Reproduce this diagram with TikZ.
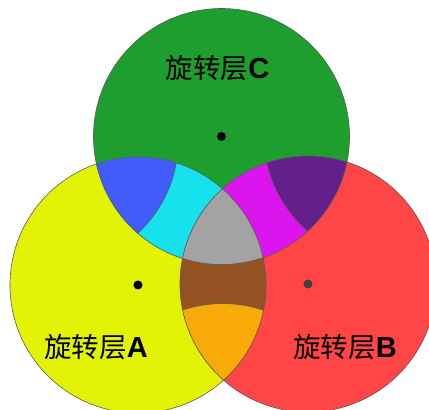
\documentclass[tikz,border=0pt]{standalone}
\usepackage{fontspec}
\setmainfont{Liberation Sans}
\newfontfamily\cjk{Noto Sans CJK SC}
\definecolor{cYellow}{HTML}{E3F306}
\definecolor{cRed}{HTML}{FF4545}
\definecolor{cGreen}{HTML}{1E9E2E}
\definecolor{cBlue}{HTML}{425BFB}
\definecolor{cCyan}{HTML}{16E2EE}
\definecolor{cMagenta}{HTML}{DC14EE}
\definecolor{cPurple}{HTML}{63208A}
\definecolor{cGray}{HTML}{A3A3A3}
\definecolor{cBrown}{HTML}{955223}
\definecolor{cOrange}{HTML}{F7AA08}
\definecolor{cLine}{HTML}{5A5A5A}
\newcommand{\layerlabel}[1]{{\fontsize{27.5}{30}\selectfont\cjk 旋转层}{\fontsize{29}{30}\selectfont\bfseries #1}}
\begin{document}
\begin{tikzpicture}[x=1pt,y=1pt,
  outline/.style={draw=cLine,line width=0.6pt},
  dot/.style={circle,inner sep=0pt,minimum size=9pt},
  lbl/.style={inner sep=0pt,text=black}]
\useasboundingbox (0,0) rectangle (429,410);
\clip (0,0) rectangle (429,410);
\coordinate (A) at (138,125);
\coordinate (B) at (308,126);
\coordinate (C) at (221.5,273.5);
\coordinate (D1) at (50.4,270.2);
\coordinate (D2) at (391.7,275.4);
\coordinate (D3) at (222.8,-21.6);
% base discs
\fill[cYellow] (A) circle[radius=128];
\fill[cRed] (B) circle[radius=128];
\fill[cGreen] (C) circle[radius=128];
% A and C
\begin{scope}
  \clip (A) circle[radius=128];
  \clip (C) circle[radius=128];
  \fill[cCyan] (0,0) rectangle (429,410);
  \fill[cBlue] (D1) circle[radius=128];
  \draw[outline] (D1) circle[radius=128];
\end{scope}
% B and C
\begin{scope}
  \clip (B) circle[radius=128];
  \clip (C) circle[radius=128];
  \fill[cMagenta] (0,0) rectangle (429,410);
  \fill[cPurple] (D2) circle[radius=128];
  \draw[outline] (D2) circle[radius=128];
\end{scope}
% A and B
\begin{scope}
  \clip (A) circle[radius=128];
  \clip (B) circle[radius=128];
  \fill[cBrown] (0,0) rectangle (429,410);
  \fill[cOrange] (D3) circle[radius=128];
  \draw[outline] (D3) circle[radius=128];
\end{scope}
% A, B and C
\begin{scope}
  \clip (A) circle[radius=128];
  \clip (B) circle[radius=128];
  \clip (C) circle[radius=128];
  \fill[cGray] (0,0) rectangle (429,410);
\end{scope}
% outlines
\draw[outline] (A) circle[radius=128];
\draw[outline] (B) circle[radius=128];
\draw[outline] (C) circle[radius=128];
% centre dots
\node[dot,fill=black] (dA) at (A) {};
\node[dot,fill=black!75] (dB) at (B) {};
\node[dot,fill=black] (dC) at (C) {};
% labels
\node[lbl] (tC) at (217.5,342) {\layerlabel{C}};
\node[lbl] (tA) at (96,63) {\layerlabel{A}};
\node[lbl] (tB) at (345,63) {\layerlabel{B}};
\end{tikzpicture}
\end{document}
